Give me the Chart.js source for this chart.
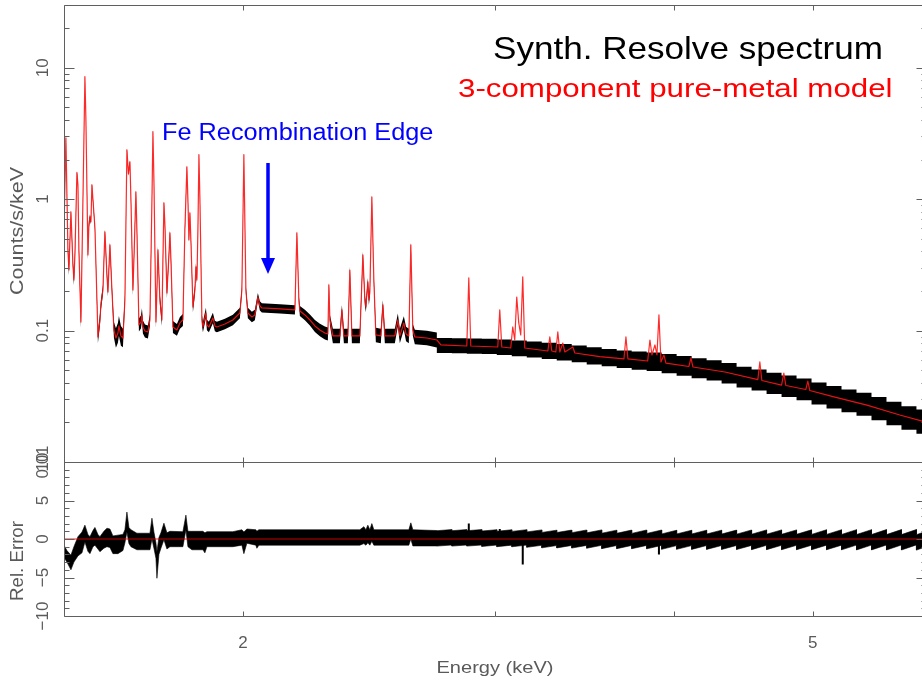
<!DOCTYPE html>
<html>
<head>
<meta charset="utf-8">
<title>Synth. Resolve spectrum</title>
<script src="https://cdn.jsdelivr.net/npm/chart.js@4/dist/chart.umd.min.js"></script>
<style>
  html, body { margin: 0; padding: 0; background: #fff; overflow: hidden; }
  #wrap { position: relative; width: 922px; height: 686px; overflow: hidden; background: #fff; }
  #wrap canvas { position: absolute; left: 0; }
  #spec { top: 0; }
  #resid { top: 440px; }
</style>
</head>
<body>
<div id="wrap">
  <canvas id="spec" width="940" height="480"></canvas>
  <canvas id="resid" width="940" height="246"></canvas>
</div>
<script>
// ---------------------------------------------------------------
// Model spectrum (3-component pure-metal model), counts/s/keV
// ---------------------------------------------------------------
const energyKeV = [
  1.4998, 1.5046, 1.5095, 1.5119, 1.5168, 1.5217, 1.5241, 1.5266, 1.5315, 1.5340,
  1.5364, 1.5414, 1.5464, 1.5513, 1.5538, 1.5588, 1.5613, 1.5639, 1.5664, 1.5689,
  1.5715, 1.5765, 1.5816, 1.5841, 1.5892, 1.5918, 1.5969, 1.6020, 1.6072, 1.6098,
  1.6150, 1.6202, 1.6254, 1.6306, 1.6359, 1.6385, 1.6438, 1.6491, 1.6544, 1.6597,
  1.6638, 1.6678, 1.6705, 1.6758, 1.6785, 1.6839, 1.6866, 1.6921, 1.6976, 1.7003,
  1.7030, 1.7085, 1.7167, 1.7223, 1.7279, 1.7306, 1.7334, 1.7390, 1.7418, 1.7446,
  1.7502, 1.7558, 1.7587, 1.7615, 1.7643, 1.7700, 1.7758, 1.7786, 1.7815, 1.7872,
  1.7987, 1.8074, 1.8161, 1.8219, 1.8278, 1.8308, 1.8337, 1.8367, 1.8396, 1.8456,
  1.8515, 1.8545, 1.8575, 1.8605, 1.8635, 1.8665, 1.8725, 1.8755, 1.8846, 1.8876,
  1.8937, 1.9058, 1.9119, 1.9181, 1.9430, 1.9681, 1.9904, 1.9968, 2.0032, 2.0097,
  2.0161, 2.0292, 2.0389, 2.0488, 2.0554, 2.0620, 2.1227, 2.1745, 2.1815, 2.1885,
  2.1920, 2.2098, 2.2276, 2.2456, 2.2637, 2.2820, 2.2930, 2.2967, 2.3004, 2.3115,
  2.3377, 2.3452, 2.3527, 2.3679, 2.3755, 2.3832, 2.4140, 2.4257, 2.4335, 2.4374,
  2.4452, 2.4492, 2.4531, 2.4610, 2.4689, 2.4768, 2.4968, 2.5049, 2.5129, 2.5537,
  2.5660, 2.5743, 2.5909, 2.6001, 2.6118, 2.6202, 2.6286, 2.6371, 2.6886, 2.7321,
  2.7498, 2.8670, 2.8762, 2.8854, 3.0135, 3.0231, 3.0329, 3.0769, 3.0869, 3.0968,
  3.1068, 3.1168, 3.1268, 3.1369, 3.1470, 3.2661, 3.2765, 3.2871, 3.3083, 3.3189,
  3.3296, 3.3457, 3.3567, 3.4000, 3.4112, 3.5507, 3.6913, 3.7032, 3.7151, 3.8349,
  3.8489, 3.8613, 3.8800, 3.8925, 3.9050, 3.9176, 3.9365, 3.9489, 4.0981, 4.1112,
  4.1246, 4.3424, 4.5783, 4.5930, 4.6079, 4.7563, 4.7737, 4.7893, 4.9453, 4.9615,
  4.9772, 5.1661, 5.4563, 5.7522, 6.0000
];

const modelFlux = [
  0.535, 2.93, 0.411, 0.289, 0.800, 0.316, 0.243, 0.376, 1.59, 1.285,
  0.411, 0.116, 0.988, 8.54, 4.02, 0.376, 0.637, 0.733, 0.672, 1.285,
  0.988, 0.605, 0.171, 0.0894, 0.1204, 0.1567, 0.2038, 0.564, 0.265, 0.197,
  0.449, 0.2038, 0.1011, 0.0878, 0.0959, 0.1084, 0.0910, 0.0878, 0.171, 2.37,
  1.558, 1.92, 0.988, 0.2038, 0.345, 1.137, 0.584, 0.1103, 0.1162, 0.1315,
  0.1065, 0.0993, 0.0976, 0.1204, 0.988, 3.26, 1.403, 0.1162, 0.2038, 0.411,
  0.171, 0.1204, 0.345, 0.937, 0.637, 0.1934, 0.376, 0.554, 0.345, 0.1065,
  0.1011, 0.1143, 0.1204, 0.584, 1.76, 0.988, 0.490, 0.786, 0.490, 0.1513,
  0.2038, 0.305, 0.243, 0.584, 2.18, 0.988, 0.1204, 0.1065, 0.1361, 0.1103,
  0.1065, 0.1247, 0.1084, 0.1065, 0.1123, 0.1204, 0.1361, 0.2038, 2.18, 0.2038,
  0.1361, 0.1269, 0.1315, 0.180, 0.154, 0.1486, 0.146, 0.1435, 0.554, 0.171,
  0.141, 0.1315, 0.1204, 0.1084, 0.1011, 0.0959, 0.0942, 0.2225, 0.1204, 0.0910,
  0.0910, 0.1435, 0.0910, 0.0910, 0.289, 0.0910, 0.0910, 0.376, 0.171, 0.1513,
  0.2345, 0.171, 0.197, 1.04, 0.243, 0.0926, 0.0910, 0.1567, 0.0910, 0.0910,
  0.1204, 0.0910, 0.1143, 0.0942, 0.0910, 0.449, 0.1011, 0.0894, 0.0878, 0.0848,
  0.0777, 0.0763, 0.2515, 0.0763, 0.0750, 0.1435, 0.0750, 0.0737, 0.1065, 0.0848,
  0.180, 0.1143, 0.0926, 0.256, 0.0737, 0.0699, 0.0894, 0.0699, 0.0687, 0.0976,
  0.0687, 0.0804, 0.0687, 0.0750, 0.0675, 0.0633, 0.0608, 0.0894, 0.0608, 0.0587,
  0.0848, 0.0652, 0.0777, 0.0652, 0.1315, 0.0577, 0.0652, 0.0566, 0.0533, 0.0619,
  0.0528, 0.0484, 0.0424, 0.0577, 0.0417, 0.0385, 0.0475, 0.0382, 0.0356, 0.0413,
  0.0350, 0.0314, 0.0271, 0.0228, 0.0201
];

// Half-width (dex) of the unbinned data band, for the first model points (< 2.73 keV)
const dataErrDex = [
  0.03, 0.012, 0.03, 0.04, 0.015, 0.03, 0.04, 0.03, 0.012, 0.015,
  0.03, 0.045, 0.02, 0.008, 0.01, 0.035, 0.025, 0.02, 0.02, 0.012,
  0.015, 0.02, 0.035, 0.045, 0.045, 0.04, 0.035, 0.02, 0.03, 0.035,
  0.02, 0.035, 0.06, 0.075, 0.075, 0.075, 0.075, 0.07, 0.04, 0.012,
  0.015, 0.012, 0.02, 0.04, 0.03, 0.015, 0.025, 0.05, 0.05, 0.05,
  0.05, 0.05, 0.05, 0.045, 0.02, 0.01, 0.015, 0.045, 0.035, 0.025,
  0.035, 0.045, 0.03, 0.015, 0.02, 0.04, 0.03, 0.02, 0.03, 0.045,
  0.045, 0.045, 0.045, 0.025, 0.012, 0.015, 0.02, 0.015, 0.02, 0.04,
  0.035, 0.03, 0.03, 0.02, 0.01, 0.015, 0.04, 0.04, 0.04, 0.04,
  0.04, 0.04, 0.04, 0.04, 0.04, 0.04, 0.04, 0.03, 0.01, 0.03,
  0.04, 0.04, 0.04, 0.03, 0.035, 0.035, 0.035, 0.035, 0.015, 0.03,
  0.038, 0.04, 0.042, 0.045, 0.048, 0.05, 0.05, 0.02, 0.04, 0.055,
  0.055, 0.035, 0.055, 0.055, 0.025, 0.055, 0.055, 0.025, 0.04, 0.04,
  0.03, 0.04, 0.035, 0.012, 0.03, 0.055, 0.055, 0.035, 0.055, 0.055,
  0.05, 0.055, 0.05, 0.055, 0.055, 0.02, 0.045, 0.055, 0.055, 0.057
];

// Binned data above 2.73 keV: bin edges, counts/s/keV and half-width (dex)
const binEdgeKeV = [
  2.7321, 2.7989, 2.8670, 2.9370, 3.0086, 3.0821, 3.1572, 3.2343, 3.3131, 3.3940,
  3.4768, 3.5616, 3.6485, 3.7375, 3.8287, 3.9221, 4.0177, 4.1158, 4.2162, 4.3191,
  4.4244, 4.5324, 4.6430, 4.7563, 4.8723, 4.9912, 5.1130, 5.2377, 5.3655, 5.4964,
  5.6305, 5.7678, 5.9085, 6.0527
];
const binFlux = [
  0.0770, 0.0766, 0.0761, 0.0757, 0.0748, 0.0733, 0.0718, 0.0701, 0.0684, 0.0665,
  0.0642, 0.0622, 0.0605, 0.0591, 0.0579, 0.0560, 0.0539, 0.0517, 0.0497, 0.0473,
  0.0442, 0.0421, 0.0397, 0.0377, 0.0357, 0.0332, 0.0311, 0.0292, 0.0275, 0.0255,
  0.0234, 0.0216, 0.0203
];
const binErrDex = [
  0.057, 0.057, 0.058, 0.058, 0.059, 0.060, 0.061, 0.062, 0.063, 0.064,
  0.065, 0.066, 0.067, 0.069, 0.071, 0.073, 0.075, 0.076, 0.077, 0.078,
  0.079, 0.080, 0.081, 0.082, 0.083, 0.084, 0.085, 0.086, 0.087, 0.088,
  0.089, 0.090, 0.092
];

// ---------------------------------------------------------------
// Residuals (Rel. Error)
// ---------------------------------------------------------------
const residKeV = [
  1.4998, 1.5071, 1.5168, 1.5241, 1.5340, 1.5440, 1.5513, 1.5588, 1.5639, 1.5715,
  1.5765, 1.5841, 1.5892, 1.5994, 1.6072, 1.6150, 1.6228, 1.6359, 1.6491, 1.6544,
  1.6597, 1.6651, 1.6705, 1.6866, 1.7223, 1.7279, 1.7334, 1.7390, 1.7418, 1.7474,
  1.7530, 1.7615, 1.7700, 1.7786, 1.8161, 1.8249, 1.8308, 1.8426, 1.8755, 1.8815,
  1.8876, 1.9681, 1.9968, 2.0032, 2.0129, 2.0422, 2.0455, 2.0521, 2.4140, 2.4296,
  2.4374, 2.4452, 2.4531, 2.4610, 2.4689, 2.6118, 2.6202, 2.6286, 2.7321
];
const residUpper = [
  -0.8, -1.5, -2.1, -1.0, 0.3, 0.9, 1.8, 0.6, 0.3, 1.1,
  1.5, 0.6, 0.3, 1.0, 1.4, 1.3, 0.4, 0.5, 0.6, 1.2,
  3.5, 1.5, 1.2, 0.75, 0.75, 2.7, 0.9, -0.5, -1.65, 0.2,
  0.8, 2.05, 0.8, 1.0, 0.95, 3.1, 1.0, 1.0, 1.0, 0.8,
  0.95, 0.95, 1.2, 0.9, 1.3, 1.2, 1.0, 1.2, 1.2, 1.6,
  1.2, 1.8, 1.2, 2.0, 1.2, 1.2, 2.1, 1.2, 1.1
];
const residLower = [
  -2.4, -3.0, -4.0, -3.0, -2.2, -1.8, -0.4, -1.6, -1.9, -1.0,
  -0.8, -1.3, -1.65, -1.2, -1.0, -1.1, -1.9, -1.9, -1.5, -0.5,
  0.9, -0.6, -1.0, -1.4, -1.4, 0.0, -1.2, -2.5, -5.1, -2.0,
  -1.2, -0.1, -1.3, -1.0, -1.0, 1.2, -1.0, -1.4, -1.4, -1.8,
  -1.0, -1.0, -0.8, -1.9, -0.55, -0.8, -1.2, -0.8, -0.8, -0.6,
  -0.8, -0.5, -0.8, -0.3, -0.8, -0.8, 0.0, -0.9, -0.9
];
// Residual of each data bin at its low and high edge, and its error
const residBinStart = [
  0.08, 0.08, 0.08, 0.03, 0.0, -0.01, -0.08, -0.15, -0.16, -0.18,
  -0.2, -0.25, -0.26, -0.27, -0.28, -0.34, -0.34, -0.35, -0.35, -0.36,
  -0.37, -0.38, -0.38, -0.39, -0.39, -0.4, -0.4, -0.41, -0.42, -0.42,
  -0.43, -0.43, -0.44
];
const residBinEnd = [
  0.22, 0.22, 0.22, 0.21, 0.2, 0.21, 0.18, 0.15, 0.16, 0.17,
  0.18, 0.15, 0.16, 0.17, 0.17, 0.14, 0.14, 0.15, 0.15, 0.16,
  0.17, 0.18, 0.18, 0.18, 0.19, 0.2, 0.2, 0.21, 0.21, 0.22,
  0.22, 0.23, 0.24
];
const residBinErr = 1.0;
// Narrow residual features at line energies inside the binned range
const residSpikeKeV = [2.8762, 3.0231, 3.1369, 3.9050];
const residSpikeTop = [2.0, 1.3, 0.6, 0.6];
const residSpikeBottom = [-0.5, -0.9, -3.3, -2.0];

// ---------------------------------------------------------------
// Axes
// ---------------------------------------------------------------
const energyRange = [1.5, 6.0];
const countRange = [0.01, 30];
const residRange = [-10, 10];
const energyTicks = [2, 3, 4, 5, 6];
const energyTickLabels = ['2', '', '', '5', ''];
const countTicks = [0.01, 0.1, 1, 10];
const countTickLabels = ['0.01', '0.1', '1', '10'];
const residTicks = [-10, -5, 0, 5, 10];
const residTickLabels = ['\u221210', '\u22125', '0', '5', '10'];

// ---------------------------------------------------------------
// Dataset construction
// ---------------------------------------------------------------
const modelPoints = energyKeV.map((e, i) => ({ x: e, y: modelFlux[i] }));

function bandEdge(sign) {
  const pts = [];
  for (let i = 0; i < dataErrDex.length; i++) {
    pts.push({ x: energyKeV[i], y: modelFlux[i] * Math.pow(10, sign * dataErrDex[i]) });
  }
  for (let j = 0; j < binFlux.length; j++) {
    const v = binFlux[j] * Math.pow(10, sign * binErrDex[j]);
    pts.push({ x: binEdgeKeV[j], y: v });
    pts.push({ x: binEdgeKeV[j + 1], y: v });
  }
  return pts;
}

function residEdge(sign) {
  const pts = residKeV.map((e, i) => ({ x: e, y: sign > 0 ? residUpper[i] : residLower[i] }));
  for (let j = 0; j < residBinStart.length; j++) {
    pts.push({ x: binEdgeKeV[j], y: residBinStart[j] + sign * residBinErr });
    pts.push({ x: binEdgeKeV[j + 1], y: residBinEnd[j] + sign * residBinErr });
  }
  return pts;
}

const spikePoints = [];
residSpikeKeV.forEach((e, i) => {
  spikePoints.push({ x: e, y: residSpikeTop[i] });
  spikePoints.push({ x: e, y: residSpikeBottom[i] });
  spikePoints.push({ x: e, y: null });
});

// ---------------------------------------------------------------
// Drawing helpers
// ---------------------------------------------------------------
const FRAME = '#5f5f5f';
const LABEL = '#5a5a5a';
const SANS = '"Liberation Sans", Arial, Helvetica, sans-serif';

function drawTextStretched(ctx, str, x, y, size, color, sx, align) {
  ctx.save();
  ctx.translate(x, y);
  ctx.scale(sx, 1);
  ctx.font = size + 'px ' + SANS;
  ctx.fillStyle = color;
  ctx.textAlign = align || 'left';
  ctx.textBaseline = 'alphabetic';
  ctx.fillText(str, 0, 0);
  ctx.restore();
}

function drawTextFit(ctx, str, cx, cy, size, color, length, rotated) {
  ctx.save();
  ctx.font = size + 'px ' + SANS;
  const w = ctx.measureText(str).width;
  const s = length ? length / w : 1;
  ctx.translate(cx, cy);
  if (rotated) ctx.rotate(-Math.PI / 2);
  ctx.scale(s, 1);
  ctx.fillStyle = color;
  ctx.textAlign = 'center';
  ctx.textBaseline = 'middle';
  ctx.fillText(str, 0, 0);
  ctx.restore();
}

function drawFrame(chart, majors, minors) {
  const { ctx, chartArea: a } = chart;
  const xs = chart.scales.x, ys = chart.scales.y;
  const L = Math.round(a.left) + 0.5, R = Math.round(a.right) + 0.5;
  const T = Math.round(a.top) + 0.5, B = Math.round(a.bottom) + 0.5;
  ctx.save();
  ctx.strokeStyle = FRAME;
  ctx.lineWidth = 1;
  ctx.beginPath();
  ctx.rect(L, T, R - L, B - T);
  energyTicks.forEach(e => {
    const px = Math.round(xs.getPixelForValue(e)) + 0.5;
    ctx.moveTo(px, T); ctx.lineTo(px, T + 5);
    ctx.moveTo(px, B); ctx.lineTo(px, B - 5);
  });
  const tick = (v, len) => {
    const py = Math.round(ys.getPixelForValue(v)) + 0.5;
    ctx.moveTo(L, py); ctx.lineTo(L + len, py);
    ctx.moveTo(R, py); ctx.lineTo(R - len, py);
  };
  majors.forEach(v => tick(v, 10));
  minors.forEach(v => tick(v, 5));
  ctx.stroke();
  ctx.restore();
}

function drawYLabels(chart, values, labels) {
  const ys = chart.scales.y;
  values.forEach((v, i) => {
    drawTextFit(chart.ctx, labels[i], 43, ys.getPixelForValue(v), 17, LABEL, 0, true);
  });
}

const countMinor = [];
[0.01, 0.1, 1, 10].forEach(d => {
  for (let k = 2; k <= 9; k++) if (k * d <= countRange[1]) countMinor.push(k * d);
});
const residMinor = [];
for (let v = residRange[0]; v <= residRange[1]; v++) if (v % 5 !== 0) residMinor.push(v);

// ---------------------------------------------------------------
// Upper panel: spectrum
// ---------------------------------------------------------------
const arrowKeV = 2.082;

const specDecor = {
  id: 'specDecor',
  afterDatasetsDraw(chart) {
    const ctx = chart.ctx;
    drawFrame(chart, countTicks, countMinor);
    drawYLabels(chart, countTicks, countTickLabels);
    drawTextFit(ctx, 'Counts/s/keV', 18, 231, 18, LABEL, 128, true);

    drawTextStretched(ctx, 'Synth. Resolve spectrum', 493, 59, 30.5, '#000000', 1.15);
    drawTextStretched(ctx, '3-component pure-metal model', 458, 97, 26.5, '#ff0000', 1.18);
    drawTextStretched(ctx, 'Fe Recombination Edge', 162, 140, 23, '#0000ff', 1.1);

    // arrow pointing at the edge
    const ax = Math.round(chart.scales.x.getPixelForValue(arrowKeV));
    ctx.save();
    ctx.strokeStyle = '#0000ff';
    ctx.fillStyle = '#0000ff';
    ctx.lineWidth = 3.5;
    ctx.beginPath();
    ctx.moveTo(ax, 163);
    ctx.lineTo(ax, 259);
    ctx.stroke();
    ctx.beginPath();
    ctx.moveTo(ax - 7, 258);
    ctx.lineTo(ax + 7, 258);
    ctx.lineTo(ax, 274);
    ctx.closePath();
    ctx.fill();
    ctx.restore();
  }
};

new Chart(document.getElementById('spec'), {
  type: 'line',
  data: {
    datasets: [
      { label: 'model', data: modelPoints, borderColor: 'rgba(255,20,20,0.9)', borderWidth: 1.2, pointRadius: 0, fill: false },
      { label: 'data high', data: bandEdge(1), borderColor: 'rgba(0,0,0,0)', borderWidth: 0, pointRadius: 0, fill: false },
      { label: 'data low', data: bandEdge(-1), borderColor: 'rgba(0,0,0,0)', borderWidth: 0, pointRadius: 0, backgroundColor: '#000', fill: '-1' }
    ]
  },
  options: {
    responsive: false,
    animation: false,
    devicePixelRatio: 1,
    events: [],
    layout: { padding: { left: 64, right: 14, top: 5, bottom: 18 } },
    plugins: { legend: { display: false }, tooltip: { enabled: false } },
    elements: { line: { tension: 0, borderJoinStyle: 'round' } },
    scales: {
      x: { type: 'logarithmic', min: energyRange[0], max: energyRange[1], display: false },
      y: { type: 'logarithmic', min: countRange[0], max: countRange[1], display: false }
    }
  },
  plugins: [specDecor]
});

// ---------------------------------------------------------------
// Lower panel: relative error
// ---------------------------------------------------------------
const residDecor = {
  id: 'residDecor',
  afterDatasetsDraw(chart) {
    const ctx = chart.ctx;
    drawFrame(chart, residTicks, residMinor);
    drawYLabels(chart, residTicks, residTickLabels);
    drawTextFit(ctx, 'Rel. Error', 18, 121, 18, LABEL, 80, true);
    const xs = chart.scales.x;
    energyTicks.forEach((e, i) => {
      if (energyTickLabels[i]) drawTextFit(ctx, energyTickLabels[i], xs.getPixelForValue(e), 203, 17, LABEL, 0, false);
    });
    drawTextFit(ctx, 'Energy (keV)', 495, 228, 17, LABEL, 117, false);
  }
};

new Chart(document.getElementById('resid'), {
  type: 'line',
  data: {
    datasets: [
      { label: 'zero', data: [{ x: energyRange[0], y: 0 }, { x: energyRange[1], y: 0 }], borderColor: 'rgba(235,0,0,0.85)', borderWidth: 1.2, pointRadius: 0, fill: false },
      { label: 'resid high', data: residEdge(1), borderColor: '#000', borderWidth: 0.6, pointRadius: 0, fill: false },
      { label: 'resid low', data: residEdge(-1), borderColor: '#000', borderWidth: 0.6, pointRadius: 0, backgroundColor: '#000', fill: '-1' },
      { label: 'resid features', data: spikePoints, borderColor: '#000', borderWidth: 2, pointRadius: 0, fill: false, spanGaps: false }
    ]
  },
  options: {
    responsive: false,
    animation: false,
    devicePixelRatio: 1,
    events: [],
    layout: { padding: { left: 64, right: 14, top: 22, bottom: 70 } },
    plugins: { legend: { display: false }, tooltip: { enabled: false } },
    elements: { line: { tension: 0 } },
    scales: {
      x: { type: 'logarithmic', min: energyRange[0], max: energyRange[1], display: false },
      y: { type: 'linear', min: residRange[0], max: residRange[1], display: false }
    }
  },
  plugins: [residDecor]
});
</script>
</body>
</html>
